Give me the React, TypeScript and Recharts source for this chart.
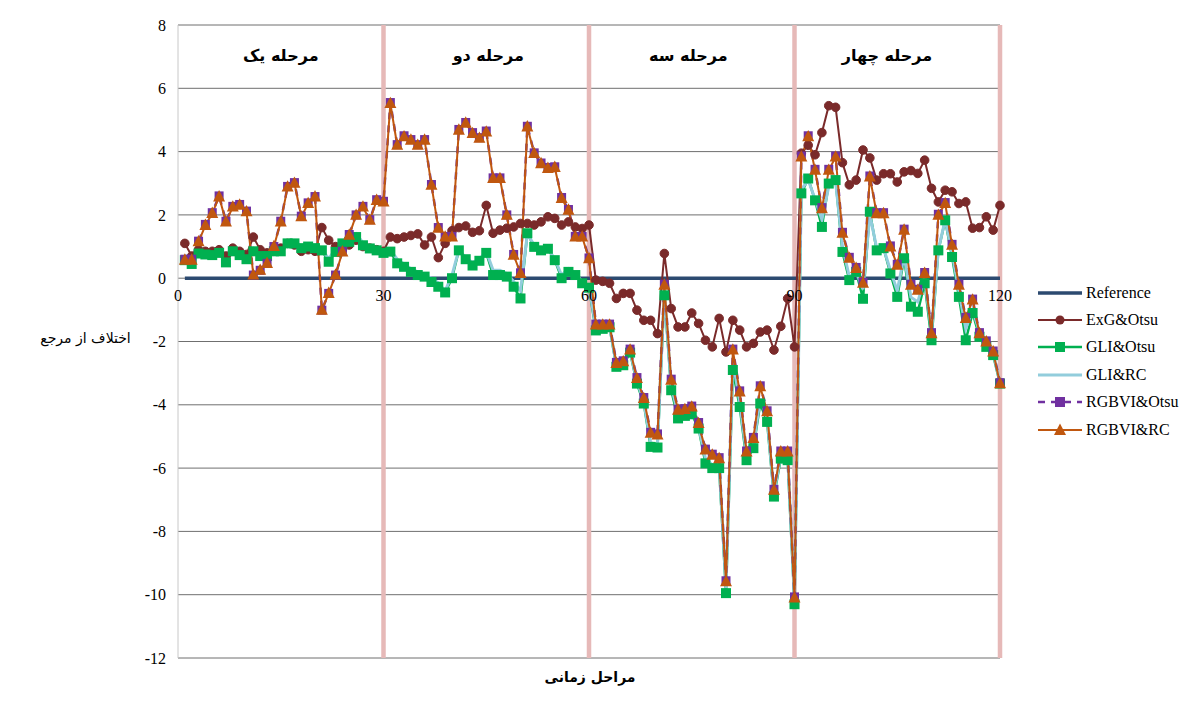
import React from 'react';
import { LineChart, Line, XAxis, YAxis, CartesianGrid, ReferenceLine, ReferenceDot, Legend } from 'recharts';

const steps = Array.from({ length: 120 }, (_, i) => i + 1);
const xTickLabels = [0, 30, 60, 90, 120];
const yTicks = [-12, -10, -8, -6, -4, -2, 0, 2, 4, 6, 8];
const phaseBoundaries = [30, 60, 90, 120];
const phaseNames = ['مرحله یک', 'مرحله دو', 'مرحله سه', 'مرحله چهار'];
const phaseCenters = [15, 45.3, 74.5, 103.5];

const reference = [
  0, 0, 0, 0, 0, 0, 0, 0, 0, 0, 0, 0, 0, 0, 0, 0, 0, 0, 0, 0, 0, 0, 0, 0, 0, 0, 0, 0, 0, 0,
  0, 0, 0, 0, 0, 0, 0, 0, 0, 0, 0, 0, 0, 0, 0, 0, 0, 0, 0, 0, 0, 0, 0, 0, 0, 0, 0, 0, 0, 0,
  0, 0, 0, 0, 0, 0, 0, 0, 0, 0, 0, 0, 0, 0, 0, 0, 0, 0, 0, 0, 0, 0, 0, 0, 0, 0, 0, 0, 0, 0,
  0, 0, 0, 0, 0, 0, 0, 0, 0, 0, 0, 0, 0, 0, 0, 0, 0, 0, 0, 0, 0, 0, 0, 0, 0, 0, 0, 0, 0, 0,
];

const exgOtsu = [
  1.1, 0.7, 0.9, 0.85, 0.85, 0.9, 0.7, 0.95, 0.85, 0.75, 1.3, 0.9, 0.8, 0.85, 0.95, 1.1, 1.05, 0.85, 0.9, 0.85,
  1.6, 1.2, 1.0, 0.9, 1.05, 1.2, 1.0, 0.95, 0.9, 0.85,
  1.3, 1.25, 1.3, 1.35, 1.4, 1.05, 1.3, 0.65, 1.1, 1.5, 1.6, 1.65, 1.45, 1.5, 2.3, 1.42, 1.52, 1.58, 1.62, 1.73,
  1.73, 1.68, 1.78, 1.94, 1.89, 1.68, 1.78, 1.62, 1.57, 1.68,
  -0.06, -0.1, -0.16, -0.64, -0.48, -0.48, -1.01, -1.33, -1.33, -1.75, 0.78, -0.96, -1.54, -1.54, -1.1, -1.43, -1.96, -2.17, -1.27, -2.33,
  -1.33, -1.64, -2.17, -2.06, -1.7, -1.64, -2.27, -1.52, -0.64, -2.17,
  3.95, 4.2, 3.9, 4.6, 5.45, 5.4, 3.65, 2.95, 3.1, 4.05, 3.8, 3.1, 3.3, 3.3, 3.04, 3.36, 3.4, 3.31, 3.73, 2.84,
  2.41, 2.78, 2.73, 2.36, 2.41, 1.58, 1.6, 1.94, 1.52, 2.3,
];

const gliOtsu = [
  0.57, 0.45, 0.78, 0.75, 0.73, 0.8, 0.5, 0.85, 0.73, 0.6, 0.85, 0.7, 0.7, 0.85, 0.85, 1.1, 1.1, 0.95, 1.0, 0.95,
  0.88, 0.52, 0.83, 1.1, 1.15, 1.3, 1.04, 0.94, 0.88, 0.8,
  0.84, 0.47, 0.36, 0.2, 0.1, 0.05, -0.12, -0.27, -0.45, 0.0, 0.88, 0.6, 0.4, 0.55, 0.8, 0.1, 0.1, 0.05, -0.27, -0.64,
  1.42, 0.99, 0.88, 0.93, 0.57, 0.0, 0.2, 0.1, -0.16, -0.3,
  -1.65, -1.6, -1.55, -2.8, -2.75, -2.35, -3.33, -3.96, -5.33, -5.35, -0.54, -3.54, -4.43, -4.35, -4.3, -4.75, -5.85, -6.0, -6.0, -9.95,
  -2.9, -4.07, -5.75, -5.37, -3.96, -4.54, -6.9, -5.7, -5.75, -10.3,
  2.68, 3.15, 2.46, 1.62, 2.99, 3.1, 0.83, -0.06, 0.2, -0.65, 2.1, 0.88, 0.95, 0.15, -0.59, 0.63, -0.9, -1.06, -0.16, -1.96,
  0.88, 1.83, 0.67, -0.59, -1.96, -1.1, -1.85, -2.17, -2.43, -3.33,
];

const gliRc = [
  0.7, 0.7, 0.88, 0.88, 0.85, 0.92, 0.75, 0.95, 0.85, 0.75, 0.95, 0.85, 0.85, 0.95, 0.98, 1.15, 1.18, 1.0, 1.05, 1.0,
  0.9, 0.62, 0.92, 1.18, 1.25, 1.4, 1.12, 1.02, 0.95, 0.88,
  0.9, 0.6, 0.45, 0.3, 0.2, 0.1, 0.0, -0.15, -0.4, 0.1, 0.9, 0.65, 0.5, 0.6, 0.85, 0.25, 0.25, 0.15, -0.1, -0.4,
  1.4, 1.05, 0.9, 0.95, 0.6, 0.1, 0.3, 0.15, -0.1, -0.25,
  -1.55, -1.55, -1.5, -2.75, -2.7, -2.3, -3.25, -3.9, -5.2, -5.25, -0.4, -3.4, -4.3, -4.25, -4.2, -4.7, -5.7, -5.9, -5.85, -9.8,
  -2.6, -3.9, -5.6, -5.3, -3.8, -4.4, -6.8, -5.6, -5.6, -10.2,
  2.8, 3.1, 2.5, 1.85, 2.9, 3.05, 1.0, 0.05, 0.2, -0.35, 2.0, 0.95, 0.95, 0.25, -0.4, 0.7, -0.6, -0.75, 0.0, -1.7,
  0.9, 1.85, 0.8, -0.4, -1.6, -1.0, -1.7, -2.1, -2.35, -3.3,
];

const rgbviOtsu = [
  0.6, 0.6, 1.17, 1.7, 2.07, 2.6, 1.8, 2.27, 2.33, 2.12, 0.1, 0.25, 0.47, 1.0, 1.8, 2.9, 3.02, 1.96, 2.38, 2.58,
  -1.01, -0.48, 0.1, 0.85, 1.38, 2.0, 2.27, 1.85, 2.48, 2.43,
  5.55, 4.22, 4.5, 4.38, 4.22, 4.38, 2.96, 1.6, 1.32, 1.32, 4.7, 4.92, 4.6, 4.44, 4.65, 3.17, 3.17, 2.0, 0.75, 0.17,
  4.8, 3.96, 3.64, 3.5, 3.52, 2.55, 2.17, 1.32, 1.32, 0.64,
  -1.45, -1.45, -1.45, -2.66, -2.61, -2.24, -3.14, -3.77, -4.87, -4.92, -0.19, -3.19, -4.14, -4.12, -4.04, -4.56, -5.4, -5.56, -5.67, -9.56,
  -2.24, -3.56, -5.46, -5.03, -3.4, -4.19, -6.67, -5.46, -5.46, -10.07,
  3.86, 4.5, 3.44, 2.23, 3.44, 3.86, 1.45, 0.66, 0.34, -0.13, 3.23, 2.07, 2.07, 1.02, 0.44, 1.55, -0.19, -0.35, 0.18, -1.72,
  2.02, 2.39, 1.07, -0.19, -1.24, -0.66, -1.72, -1.98, -2.3, -3.3,
];

const rgbviRc = [
  0.57, 0.57, 1.15, 1.67, 2.05, 2.57, 1.78, 2.25, 2.31, 2.1, 0.1, 0.25, 0.47, 1.0, 1.78, 2.88, 3.0, 1.94, 2.36, 2.57,
  -1.01, -0.48, 0.1, 0.83, 1.36, 1.99, 2.25, 1.83, 2.46, 2.41,
  5.52, 4.2, 4.47, 4.36, 4.2, 4.36, 2.94, 1.58, 1.3, 1.3, 4.68, 4.9, 4.57, 4.42, 4.62, 3.15, 3.15, 1.99, 0.73, 0.15,
  4.78, 3.94, 3.62, 3.47, 3.5, 2.52, 2.15, 1.3, 1.3, 0.62,
  -1.48, -1.48, -1.48, -2.69, -2.64, -2.27, -3.17, -3.8, -4.9, -4.95, -0.22, -3.22, -4.17, -4.15, -4.07, -4.59, -5.43, -5.59, -5.7, -9.59,
  -2.27, -3.59, -5.49, -5.06, -3.43, -4.22, -6.7, -5.49, -5.49, -10.1,
  3.83, 4.47, 3.41, 2.2, 3.41, 3.83, 1.42, 0.63, 0.31, -0.16, 3.2, 2.04, 2.04, 0.99, 0.41, 1.52, -0.22, -0.38, 0.15, -1.75,
  1.99, 2.36, 1.04, -0.22, -1.27, -0.69, -1.75, -2.01, -2.33, -3.33,
];

const data = steps.map((x, i) => ({
  x,
  reference: reference[i],
  exgOtsu: exgOtsu[i],
  gliOtsu: gliOtsu[i],
  gliRc: gliRc[i],
  rgbviOtsu: rgbviOtsu[i],
  rgbviRc: rgbviRc[i],
}));

const C = {
  reference: '#2c4a70',
  exg: '#7a2a2a',
  gliOtsu: '#00b050',
  gliRc: '#92cddc',
  rgbviOtsu: '#7030a0',
  rgbviRc: '#c0570f',
  phase: '#e6b9b8',
  grid: '#6f6f6f',
};

const serif = '"Liberation Serif", "DejaVu Serif", serif';
const persian = '"DejaVu Sans", sans-serif';

const circleDot = (color: string, r: number) => (props: any) => {
  const { cx, cy, index } = props;
  if (cx == null || cy == null) return <g key={`c${index}`} />;
  return <circle key={`c${index}`} cx={cx} cy={cy} r={r} fill={color} stroke={color} />;
};
const squareDot = (color: string, s: number, tag: string) => (props: any) => {
  const { cx, cy, index } = props;
  if (cx == null || cy == null) return <g key={`${tag}${index}`} />;
  return <rect key={`${tag}${index}`} x={cx - s / 2} y={cy - s / 2} width={s} height={s} fill={color} />;
};
const triangleDot = (color: string, s: number) => (props: any) => {
  const { cx, cy, index } = props;
  if (cx == null || cy == null) return <g key={`t${index}`} />;
  const h = s * 0.95;
  return (
    <polygon
      key={`t${index}`}
      points={`${cx},${cy - h * 0.6} ${cx - s / 2},${cy + h * 0.4} ${cx + s / 2},${cy + h * 0.4}`}
      fill={color}
    />
  );
};

const legendItems = [
  { name: 'Reference', color: C.reference, width: 3.5, dash: undefined as string | undefined, marker: 'none' },
  { name: 'ExG&Otsu', color: C.exg, width: 2, dash: undefined, marker: 'circle' },
  { name: 'GLI&Otsu', color: C.gliOtsu, width: 2.5, dash: undefined, marker: 'square' },
  { name: 'GLI&RC', color: C.gliRc, width: 3, dash: undefined, marker: 'none' },
  { name: 'RGBVI&Otsu', color: C.rgbviOtsu, width: 2.5, dash: '7 6', marker: 'square' },
  { name: 'RGBVI&RC', color: C.rgbviRc, width: 2, dash: undefined, marker: 'triangle' },
];

const LegendContent = () => (
  <div style={{ fontFamily: serif, fontSize: 16, color: '#000' }}>
    {legendItems.map((it) => (
      <div key={it.name} style={{ display: 'flex', alignItems: 'center', height: 27.4 }}>
        <svg width={46} height={16} style={{ display: 'block' }}>
          <line x1={1} y1={8} x2={45} y2={8} stroke={it.color} strokeWidth={it.width} strokeDasharray={it.dash} />
          {it.marker === 'circle' && <circle cx={23} cy={8} r={4.5} fill={it.color} />}
          {it.marker === 'square' && <rect x={18} y={3} width={10} height={10} fill={it.color} />}
          {it.marker === 'triangle' && <polygon points="23,1.5 17,13 29,13" fill={it.color} />}
        </svg>
        <span style={{ marginLeft: 3, whiteSpace: 'nowrap' }}>{it.name}</span>
      </div>
    ))}
  </div>
);

export default function App() {
  return (
    <div style={{ position: 'relative', width: 1184, height: 700, fontFamily: serif }}>
      <LineChart
        width={1184}
        height={700}
        data={data}
        margin={{ top: 17, right: 192, bottom: 50, left: 110 }}
        style={{ fontFamily: serif }}
      >
        <CartesianGrid horizontal vertical={false} stroke={C.grid} strokeWidth={1} />
        <XAxis dataKey="x" type="number" domain={[0, 120]} hide />
        <YAxis
          type="number"
          domain={[-12, 8]}
          ticks={yTicks}
          width={60}
          axisLine={{ stroke: '#c8c8c8' }}
          tickLine={false}
          tickMargin={6}
          interval={0}
          tick={{ fill: '#000', fontFamily: serif, fontSize: 16 }}
        />
        {phaseBoundaries.map((b) => (
          <ReferenceLine key={`pb${b}`} x={b} stroke={C.phase} strokeWidth={4.5} ifOverflow="extendDomain" />
        ))}
        {phaseNames.map((n, i) => (
          <ReferenceDot
            key={`pn${i}`}
            x={phaseCenters[i]}
            y={7.05}
            r={1}
            fill="none"
            stroke="none"
            label={{ value: n, position: 'center', fill: '#000', fontFamily: persian, fontSize: 16, fontWeight: 'bold' }}
          />
        ))}
        {xTickLabels.map((t) => (
          <ReferenceDot
            key={`xt${t}`}
            x={t}
            y={0}
            r={1}
            fill="none"
            stroke="none"
            label={{ value: String(t), position: 'bottom', offset: 10, fill: '#000', fontFamily: serif, fontSize: 16 }}
          />
        ))}
        <Line dataKey="reference" name="Reference" stroke={C.reference} strokeWidth={3.5} dot={false} isAnimationActive={false} />
        <Line dataKey="exgOtsu" name="ExG&Otsu" stroke={C.exg} strokeWidth={2} dot={circleDot(C.exg, 4.3)} isAnimationActive={false} />
        <Line dataKey="gliOtsu" name="GLI&Otsu" stroke={C.gliOtsu} strokeWidth={2.5} dot={squareDot(C.gliOtsu, 10, 'g')} isAnimationActive={false} />
        <Line dataKey="gliRc" name="GLI&RC" stroke={C.gliRc} strokeWidth={3} dot={false} isAnimationActive={false} />
        <Line dataKey="rgbviOtsu" name="RGBVI&Otsu" stroke={C.rgbviOtsu} strokeWidth={2.5} strokeDasharray="7 6" dot={squareDot(C.rgbviOtsu, 9, 'p')} isAnimationActive={false} />
        <Line dataKey="rgbviRc" name="RGBVI&RC" stroke={C.rgbviRc} strokeWidth={2} dot={triangleDot(C.rgbviRc, 12)} isAnimationActive={false} />
        <Legend
          layout="vertical"
          align="center"
          verticalAlign="middle"
          content={LegendContent}
          wrapperStyle={{ left: 1029, top: 271, width: 160, right: 'auto', bottom: 'auto' }}
        />
      </LineChart>
      <div
        style={{
          position: 'absolute',
          left: 20,
          top: 322,
          width: 115,
          textAlign: 'center',
          fontFamily: persian,
          fontSize: 14,
          direction: 'rtl',
          color: '#000',
          whiteSpace: 'nowrap',
        }}
      >
        اختلاف از مرجع
      </div>
      <div
        style={{
          position: 'absolute',
          left: 520,
          top: 661,
          width: 124,
          textAlign: 'center',
          fontFamily: persian,
          fontSize: 14,
          fontWeight: 'bold',
          direction: 'rtl',
          color: '#000',
          whiteSpace: 'nowrap',
        }}
      >
        مراحل زمانی
      </div>
    </div>
  );
}
